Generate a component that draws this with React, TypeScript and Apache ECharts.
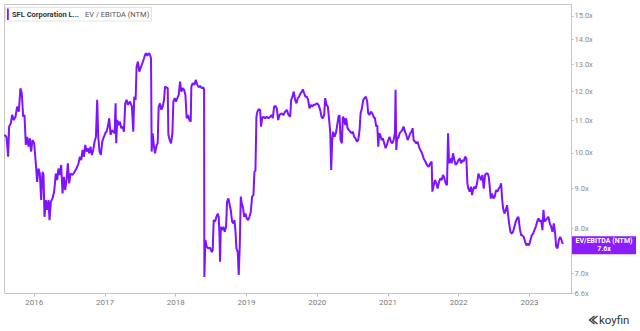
import React, { useEffect, useRef } from 'react';
import * as echarts from 'echarts';

// Time of each observation, as decimal years
const years = [
  2015.579, 2015.607, 2015.631, 2015.645, 2015.669, 2015.688, 2015.711, 2015.735, 2015.758, 2015.782,
  2015.805, 2015.824, 2015.843, 2015.862, 2015.881, 2015.900, 2015.919, 2015.938, 2015.956, 2015.975,
  2015.999, 2016.022, 2016.041, 2016.060, 2016.079, 2016.098, 2016.117, 2016.131, 2016.145, 2016.164,
  2016.183, 2016.202, 2016.216, 2016.235, 2016.258, 2016.282, 2016.305, 2016.324, 2016.343, 2016.362,
  2016.381, 2016.400, 2016.419, 2016.438, 2016.456, 2016.475, 2016.494, 2016.513, 2016.541, 2016.570,
  2016.598, 2016.626, 2016.645, 2016.664, 2016.683, 2016.702, 2016.721, 2016.739, 2016.758, 2016.777,
  2016.796, 2016.815, 2016.834, 2016.853, 2016.872, 2016.890, 2016.905, 2016.923, 2016.942, 2016.961,
  2016.985, 2017.004, 2017.022, 2017.041, 2017.060, 2017.079, 2017.098, 2017.117, 2017.136, 2017.150,
  2017.159, 2017.173, 2017.192, 2017.211, 2017.230, 2017.249, 2017.268, 2017.287, 2017.305, 2017.324,
  2017.353, 2017.381, 2017.400, 2017.414, 2017.433, 2017.447, 2017.466, 2017.485, 2017.519, 2017.537,
  2017.552, 2017.566, 2017.580, 2017.599, 2017.618, 2017.637, 2017.651, 2017.660, 2017.674, 2017.693,
  2017.707, 2017.731, 2017.745, 2017.759, 2017.778, 2017.797, 2017.816, 2017.835, 2017.849, 2017.868,
  2017.887, 2017.896, 2017.915, 2017.934, 2017.953, 2017.967, 2017.986, 2018.004, 2018.023, 2018.042,
  2018.061, 2018.080, 2018.099, 2018.118, 2018.137, 2018.155, 2018.174, 2018.193, 2018.212, 2018.221,
  2018.240, 2018.264, 2018.283, 2018.306, 2018.325, 2018.344, 2018.368, 2018.391, 2018.401, 2018.405,
  2018.420, 2018.438, 2018.462, 2018.486, 2018.509, 2018.523, 2018.537, 2018.556, 2018.575, 2018.594,
  2018.608, 2018.618, 2018.627, 2018.637, 2018.655, 2018.674, 2018.693, 2018.712, 2018.726, 2018.745,
  2018.759, 2018.778, 2018.797, 2018.816, 2018.830, 2018.844, 2018.858, 2018.877, 2018.891, 2018.905,
  2018.920, 2018.934, 2018.953, 2018.967, 2018.986, 2019.004, 2019.023, 2019.042, 2019.061, 2019.080,
  2019.099, 2019.113, 2019.127, 2019.141, 2019.155, 2019.174, 2019.193, 2019.207, 2019.221, 2019.240,
  2019.264, 2019.287, 2019.311, 2019.335, 2019.358, 2019.372, 2019.391, 2019.410, 2019.429, 2019.448,
  2019.467, 2019.500, 2019.523, 2019.547, 2019.570, 2019.594, 2019.618, 2019.632, 2019.651, 2019.669,
  2019.688, 2019.707, 2019.726, 2019.745, 2019.764, 2019.783, 2019.797, 2019.816, 2019.834, 2019.853,
  2019.872, 2019.891, 2019.910, 2019.929, 2019.948, 2019.971, 2019.995, 2020.018, 2020.042, 2020.061,
  2020.080, 2020.099, 2020.113, 2020.132, 2020.151, 2020.169, 2020.184, 2020.198, 2020.212, 2020.226,
  2020.245, 2020.264, 2020.283, 2020.301, 2020.316, 2020.330, 2020.349, 2020.363, 2020.377, 2020.396,
  2020.410, 2020.429, 2020.448, 2020.467, 2020.485, 2020.504, 2020.523, 2020.542, 2020.561, 2020.580,
  2020.599, 2020.613, 2020.632, 2020.651, 2020.669, 2020.688, 2020.707, 2020.721, 2020.740, 2020.759,
  2020.778, 2020.797, 2020.816, 2020.835, 2020.849, 2020.863, 2020.877, 2020.891, 2020.910, 2020.929,
  2020.948, 2020.967, 2020.985, 2021.004, 2021.023, 2021.042, 2021.061, 2021.080, 2021.099, 2021.108,
  2021.118, 2021.132, 2021.146, 2021.165, 2021.184, 2021.202, 2021.221, 2021.240, 2021.259, 2021.278,
  2021.297, 2021.316, 2021.334, 2021.349, 2021.363, 2021.382, 2021.401, 2021.419, 2021.438, 2021.458,
  2021.482, 2021.505, 2021.529, 2021.552, 2021.576, 2021.600, 2021.618, 2021.628, 2021.647, 2021.666,
  2021.684, 2021.703, 2021.722, 2021.741, 2021.760, 2021.779, 2021.798, 2021.816, 2021.835, 2021.850,
  2021.864, 2021.883, 2021.901, 2021.920, 2021.939, 2021.958, 2021.977, 2021.996, 2022.015, 2022.033,
  2022.052, 2022.071, 2022.090, 2022.109, 2022.123, 2022.137, 2022.156, 2022.175, 2022.189, 2022.203,
  2022.222, 2022.241, 2022.260, 2022.279, 2022.298, 2022.316, 2022.335, 2022.354, 2022.373, 2022.392,
  2022.411, 2022.425, 2022.439, 2022.453, 2022.472, 2022.491, 2022.510, 2022.529, 2022.548, 2022.566,
  2022.585, 2022.600, 2022.614, 2022.628, 2022.647, 2022.666, 2022.684, 2022.699, 2022.713, 2022.732,
  2022.750, 2022.769, 2022.788, 2022.807, 2022.826, 2022.845, 2022.864, 2022.883, 2022.901, 2022.920,
  2022.939, 2022.958, 2022.977, 2022.996, 2023.015, 2023.033, 2023.052, 2023.071, 2023.090, 2023.109,
  2023.128, 2023.147, 2023.166, 2023.184, 2023.199, 2023.213, 2023.232, 2023.250, 2023.269, 2023.288,
  2023.307, 2023.326, 2023.345, 2023.364, 2023.378, 2023.397, 2023.416, 2023.435, 2023.453, 2023.472,
];

// EV / EBITDA (NTM) multiple at each observation
const evEbitda = [
  10.55, 10.49, 9.89, 10.81, 10.92, 11.19, 11.02, 11.13, 11.47, 11.30,
  12.11, 11.93, 11.13, 11.19, 10.24, 10.49, 10.19, 10.44, 10.04, 10.39,
  10.29, 9.70, 9.18, 9.55, 9.41, 8.70, 9.46, 9.37, 8.28, 8.70,
  8.45, 8.70, 8.20, 8.66, 8.74, 8.92, 9.41, 9.23, 9.55, 9.37,
  9.65, 8.87, 9.32, 8.96, 9.23, 9.70, 9.14, 9.41, 9.37, 9.46,
  9.55, 9.70, 9.89, 9.79, 10.09, 9.89, 10.24, 10.04, 10.14, 9.99,
  10.19, 9.94, 10.09, 10.34, 10.49, 11.70, 10.49, 10.04, 9.94, 10.34,
  10.49, 10.60, 10.65, 10.81, 11.08, 10.55, 10.70, 10.65, 10.60, 11.58,
  10.29, 11.02, 10.86, 10.97, 10.76, 10.81, 10.65, 11.58, 11.70, 11.53,
  11.64, 11.47, 10.65, 11.81, 11.70, 12.91, 13.10, 12.72, 12.97, 13.10,
  13.23, 13.36, 13.43, 13.33, 13.43, 13.36, 13.23, 10.04, 10.60, 10.19,
  9.99, 10.24, 10.29, 11.47, 11.58, 11.36, 11.47, 11.70, 12.17, 12.14,
  12.11, 10.55, 10.39, 10.29, 10.60, 11.64, 11.76, 11.64, 11.76, 11.87,
  12.35, 11.99, 12.11, 12.05, 11.87, 11.08, 11.19, 11.02, 10.97, 12.17,
  12.29, 12.23, 12.41, 12.23, 12.14, 12.19, 12.11, 12.14, 12.05, 6.93,
  7.73, 7.58, 7.54, 7.56, 7.46, 7.50, 8.20, 8.16, 8.28, 8.36,
  8.28, 7.88, 7.25, 8.04, 7.96, 8.04, 7.92, 8.04, 8.66, 8.74,
  8.61, 8.45, 8.16, 8.12, 8.20, 7.96, 7.54, 7.46, 6.97, 7.58,
  8.79, 8.61, 8.49, 8.28, 8.36, 8.24, 8.20, 8.28, 8.40, 8.79,
  8.83, 9.46, 9.49, 11.13, 11.30, 11.38, 11.36, 10.81, 11.08, 11.13,
  11.08, 11.13, 11.08, 11.13, 11.19, 11.08, 11.47, 11.49, 11.41, 11.02,
  11.19, 11.24, 11.19, 11.30, 11.36, 11.19, 11.13, 11.70, 11.81, 11.99,
  11.70, 11.58, 11.76, 11.81, 11.93, 11.99, 12.07, 11.93, 11.81, 11.81,
  11.70, 11.41, 11.53, 11.47, 11.53, 11.53, 11.58, 11.53, 11.36, 11.13,
  11.08, 11.19, 11.76, 11.53, 11.47, 11.02, 10.65, 9.51, 10.39, 10.65,
  10.49, 10.60, 10.86, 11.13, 11.19, 10.39, 10.29, 11.13, 11.08, 10.86,
  11.08, 10.76, 10.70, 10.65, 10.60, 10.65, 10.49, 10.44, 10.34, 10.39,
  10.70, 11.24, 11.41, 11.70, 11.76, 11.81, 11.64, 11.24, 11.19, 11.30,
  11.24, 11.13, 11.08, 10.81, 10.86, 10.19, 10.60, 10.55, 10.39, 10.44,
  10.29, 10.14, 10.24, 10.39, 10.49, 10.34, 10.29, 10.39, 10.60, 12.05,
  10.09, 10.49, 10.44, 10.60, 10.65, 10.70, 10.81, 10.65, 10.55, 10.39,
  10.49, 10.60, 10.65, 10.76, 10.39, 10.34, 10.29, 10.34, 10.19, 10.09,
  9.99, 9.84, 9.75, 9.65, 9.60, 9.70, 9.75, 8.92, 9.09, 9.23,
  9.14, 9.00, 9.18, 9.28, 9.23, 9.37, 9.28, 9.14, 9.09, 10.60,
  9.70, 9.84, 9.70, 9.99, 9.79, 9.65, 9.70, 9.79, 9.84, 9.70,
  9.79, 9.75, 9.89, 9.84, 9.14, 9.00, 8.92, 9.05, 8.83, 8.96,
  9.05, 9.00, 9.14, 9.41, 9.32, 9.23, 9.37, 9.00, 9.37, 9.41,
  9.41, 9.32, 9.05, 8.74, 8.87, 8.74, 8.79, 8.96, 8.92, 9.00,
  9.05, 9.14, 8.74, 8.49, 8.36, 8.45, 8.57, 8.32, 8.12, 7.92,
  7.88, 7.92, 8.04, 8.16, 8.24, 8.28, 8.00, 7.84, 7.84, 7.80,
  7.69, 7.61, 7.65, 7.61, 7.73, 7.84, 7.88, 7.96, 8.04, 8.16,
  8.24, 8.16, 8.20, 7.96, 8.45, 8.16, 8.20, 8.24, 8.28, 8.12,
  8.04, 7.92, 8.12, 7.88, 7.58, 7.54, 7.73, 7.80, 7.73, 7.64,
];

const yearTicks = [2016, 2017, 2018, 2019, 2020, 2021, 2022, 2023];
const multipleTicks = [6.6, 7, 8, 9, 10, 11, 12, 13, 14, 15];

const companyLabel = 'SFL Corporation L...';
const metricLabel = 'EV / EBITDA (NTM)';
const seriesName = 'EV/EBITDA (NTM)';

const PURPLE = '#7f12ff';
const FONT = 'Roboto, "Noto Sans", "DejaVu Sans", sans-serif';

export default function App() {
  const ref = useRef<HTMLDivElement>(null);

  useEffect(() => {
    if (!ref.current) return;
    const chart = echarts.init(ref.current, null, { renderer: 'svg' });
    const data = years.map((y, i) => [y, Math.log(evEbitda[i])]);
    const last = evEbitda[evEbitda.length - 1];
    const yTickVals = multipleTicks.map((v) => Math.log(v));

    chart.setOption({
      animation: false,
      textStyle: { fontFamily: FONT },
      grid: {
        left: 4.5,
        right: 68.5,
        top: 4.5,
        bottom: 37.5,
        show: true,
        borderColor: '#c6c6c6',
        borderWidth: 1,
        backgroundColor: 'transparent',
      },
      xAxis: {
        type: 'value',
        min: 2015.5796,
        max: 2023.595,
        axisLine: { show: false },
        splitLine: { show: false },
        axisTick: {
          show: true,
          length: 3,
          lineStyle: { color: '#bdbdbd' },
          customValues: yearTicks,
        },
        axisLabel: {
          customValues: yearTicks,
          formatter: (v: number) => String(Math.round(v)),
          color: '#7a7a7a',
          fontSize: 8,
          margin: 5,
          fontFamily: FONT,
        },
      },
      yAxis: {
        type: 'value',
        position: 'right',
        min: Math.log(6.6),
        max: Math.log(15.51),
        splitLine: { show: false },
        axisLine: { show: true, lineStyle: { color: '#c6c6c6' } },
        axisTick: {
          show: true,
          length: 2,
          lineStyle: { color: '#bdbdbd' },
          customValues: yTickVals,
        },
        axisLabel: {
          customValues: yTickVals,
          formatter: (v: number) => Math.exp(v).toFixed(1) + 'x',
          color: '#8a8a8a',
          fontSize: 7.5,
          margin: 3,
          fontFamily: FONT,
        },
      },
      series: [
        {
          type: 'line',
          name: seriesName,
          data,
          symbol: 'none',
          showSymbol: false,
          lineStyle: { color: PURPLE, width: 2 },
          itemStyle: { color: PURPLE },
          emphasis: { disabled: true },
          silent: true,
          markLine: {
            silent: true,
            symbol: ['none', 'none'],
            lineStyle: { width: 0, color: 'rgba(0,0,0,0)' },
            emphasis: { disabled: true },
            data: [{ yAxis: Math.log(last) }],
            label: {
              show: true,
              position: 'end',
              distance: 0.5,
              opacity: 1,
              backgroundColor: '#8a1cff',
              padding: [1, 0, 1, 0],
              formatter: '{a|' + seriesName + '}\n{a|' + last.toFixed(1) + 'x}',
              rich: {
                a: {
                  width: 64,
                  align: 'center',
                  color: '#ffffff',
                  fontSize: 7,
                  fontWeight: 'bold',
                  lineHeight: 8,
                  fontFamily: FONT,
                },
              },
            },
          },
        },
      ],
      graphic: [
        {
          type: 'rect',
          shape: { x: 5.5, y: 7.5, width: 146, height: 13.5 },
          style: { fill: '#ffffff', stroke: '#e3e3e3', lineWidth: 1 },
          z: 100,
        },
        {
          type: 'rect',
          shape: { x: 7, y: 8.5, width: 1.8, height: 11.5 },
          style: { fill: PURPLE },
          z: 101,
        },
        {
          type: 'text',
          x: 12,
          y: 14.5,
          style: {
            text: companyLabel,
            fill: '#333333',
            font: 'bold 7.5px ' + FONT,
            verticalAlign: 'middle',
          },
          z: 101,
        },
        {
          type: 'text',
          x: 85,
          y: 14.5,
          style: {
            text: metricLabel,
            fill: '#555555',
            font: '7.5px ' + FONT,
            verticalAlign: 'middle',
          },
          z: 101,
        },
        {
          type: 'polyline',
          shape: { points: [[594.5, 316], [589.5, 320], [594.5, 324]] },
          style: { stroke: '#333333', lineWidth: 1.3, fill: 'none' },
          z: 101,
        },
        {
          type: 'polyline',
          shape: { points: [[597.5, 316], [592.5, 320], [597.5, 324]] },
          style: { stroke: '#333333', lineWidth: 1.3, fill: 'none' },
          z: 101,
        },
        {
          type: 'text',
          x: 599,
          y: 319.5,
          style: {
            text: 'koyfin',
            fill: '#333333',
            font: '11.5px ' + FONT,
            verticalAlign: 'middle',
          },
          z: 101,
        },
      ],
    });

    return () => chart.dispose();
  }, []);

  return (
    <div
      ref={ref}
      style={{ position: 'absolute', left: 0, top: 0, width: 640, height: 331 }}
    />
  );
}
